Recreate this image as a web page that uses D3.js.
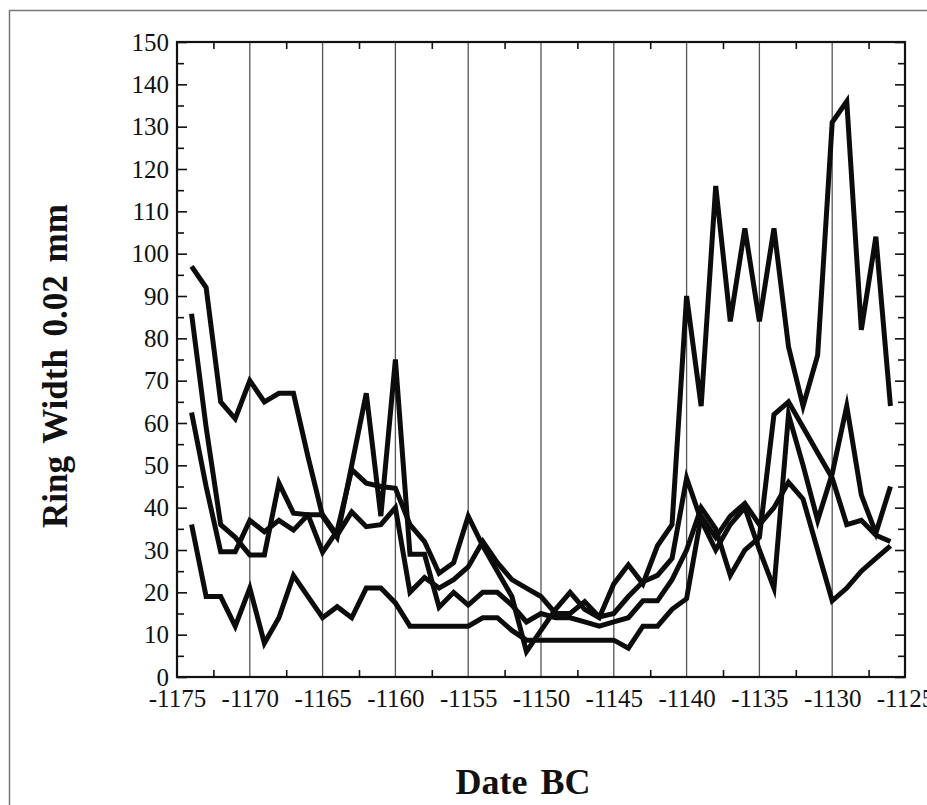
<!DOCTYPE html>
<html><head><meta charset="utf-8">
<script src="https://cdn.jsdelivr.net/npm/d3@7"></script>
<style>
body{margin:0;background:#fff}
text{font-family:'Liberation Serif','Times New Roman',serif;fill:#111}
</style>
</head><body>
<svg id="chart" width="927" height="805"></svg>
<script>
const years = [-1174,-1173,-1172,-1171,-1170,-1169,-1168,-1167,-1166,-1165,
  -1164,-1163,-1162,-1161,-1160,-1159,-1158,-1157,-1156,-1155,
  -1154,-1153,-1152,-1151,-1150,-1149,-1148,-1147,-1146,-1145,
  -1144,-1143,-1142,-1141,-1140,-1139,-1138,-1137,-1136,-1135,
  -1134,-1133,-1132,-1131,-1130,-1129,-1128,-1127,-1126];

const seriesA = [97,92,65,61,70,65,67,67,52,38,
  33,50,67,38,75,29,29,16.5,20,17,
  20,20,17,13,15,14,14,13,12,13,
  14,18,18,23,30,40,35,24,30,33,
  62,65,59,53,47,36,37,33.5,32];
const seriesB = [85.8,59,36,33,28.8,28.8,45.8,38.7,38.3,29.5,
  34.5,49,45.8,45,44.6,36,32,24.5,27,38,
  31,25,19,6,11,16,20,16,14,22,
  26.5,22,31,36,90,64,116,84,106,84,
  106,78,64,76,131,136,82,104,64];
const seriesC = [62.5,45,29.6,29.6,37,34.3,37,34.7,38.3,38.3,
  33.5,39,35.5,36,40,20,23.5,21,23,26,
  32,27,23,21,19,15,15,17.8,14.2,15,
  19,22.5,24,28,47,37,30,36,40,30,
  21,62,50,37,48,64,43,34,45];
const seriesD = [36,19,19,12,21,8,14,24,19,14,
  16.6,14,21,21,17.5,12,12,12,12,12,
  14,14,11,8.7,8.7,8.7,8.7,8.7,8.7,8.7,
  6.8,12,12,16,18.5,38,33,38,41,36,
  40,46,42,30,18,21,25,28,31];

const xTickLabels = [-1175,-1170,-1165,-1160,-1155,-1150,-1145,-1140,-1135,-1130,-1125];
const xMinorTicks = [-1172.5,-1167.5,-1162.5,-1157.5,-1152.5,-1147.5,-1142.5,-1137.5,-1132.5,-1127.5];
const xGridYears = [-1170,-1165,-1160,-1155,-1150,-1145,-1140,-1135,-1130];
const yTickLabels = [0,10,20,30,40,50,60,70,80,90,100,110,120,130,140,150];
const yMinorTicks = [5,15,25,35,45,55,65,75,85,95,105,115,125,135,145];

const xTitle = "Date BC";
const yTitle = "Ring Width 0.02 mm";

const svg = d3.select('#chart');
const L = 177, R = 905, T = 42, B = 677;
const x = d3.scaleLinear().domain([-1175,-1125]).range([L,R]);
const y = d3.scaleLinear().domain([0,150]).range([B,T]);

// outer page frame
svg.append('path').attr('d', `M9.5,805 L9.5,10.5 L927,10.5`)
  .attr('fill','none').attr('stroke','#777').attr('stroke-width',1.5);

// grid lines
svg.append('g').selectAll('line').data(xGridYears).join('line')
  .attr('x1', d=>x(d)).attr('x2', d=>x(d)).attr('y1', y(0)).attr('y2', y(150))
  .attr('stroke','#555').attr('stroke-width',1.3);

function clean(g){ g.select('.domain').remove(); }

// ticks (inward) on all sides
function ticks(axis, tr){
  svg.append('g').attr('transform',tr).call(axis).call(clean)
    .selectAll('line').attr('stroke','#111').attr('stroke-width',1.6);
}
ticks(d3.axisBottom(x).tickValues(xMinorTicks).tickSize(-7).tickFormat(''), `translate(0,${B})`);
ticks(d3.axisTop(x).tickValues(xMinorTicks).tickSize(-7).tickFormat(''), `translate(0,${T})`);
ticks(d3.axisLeft(y).tickValues(yTickLabels).tickSize(-10).tickFormat(''), `translate(${L},0)`);
ticks(d3.axisLeft(y).tickValues(yMinorTicks).tickSize(-7).tickFormat(''), `translate(${L},0)`);
ticks(d3.axisRight(y).tickValues(yTickLabels).tickSize(-10).tickFormat(''), `translate(${R},0)`);
ticks(d3.axisRight(y).tickValues(yMinorTicks).tickSize(-7).tickFormat(''), `translate(${R},0)`);

// tick labels
const xl = svg.append('g').attr('transform',`translate(0,${B})`)
  .call(d3.axisBottom(x).tickValues(xTickLabels).tickSize(0).tickPadding(12).tickFormat(d=>String(d)))
  .call(clean);
xl.selectAll('text').attr('font-size',25).attr('fill','#111')
  .style('font-family',"'Liberation Serif','Times New Roman',serif");
const yl = svg.append('g').attr('transform',`translate(${L},0)`)
  .call(d3.axisLeft(y).tickValues(yTickLabels).tickSize(0).tickPadding(8).tickFormat(d=>String(d)))
  .call(clean);
yl.selectAll('text').attr('font-size',25).attr('fill','#111')
  .style('font-family',"'Liberation Serif','Times New Roman',serif");

// plot frame
svg.append('rect').attr('x',L).attr('y',T).attr('width',R-L).attr('height',B-T)
  .attr('fill','none').attr('stroke','#111').attr('stroke-width',2.2);

// series lines
const allSeries = [seriesA, seriesB, seriesC, seriesD];
const line = d3.line().x((d,i)=>x(years[i])).y(d=>y(d));
svg.append('g').selectAll('path').data(allSeries).join('path')
  .attr('d', d=>line(d)).attr('fill','none').attr('stroke','#0c0c0c')
  .attr('stroke-width',5).attr('stroke-linejoin','miter').attr('stroke-miterlimit',6);

// axis titles
svg.append('text').attr('x',523).attr('y',794).attr('text-anchor','middle')
  .attr('font-size',36).attr('font-weight','bold').attr('word-spacing',4).text(xTitle);
svg.append('text').attr('transform','translate(67,366) rotate(-90)').attr('text-anchor','middle')
  .attr('font-size',35).attr('font-weight','bold').attr('word-spacing',4).text(yTitle);
</script>
</body></html>
